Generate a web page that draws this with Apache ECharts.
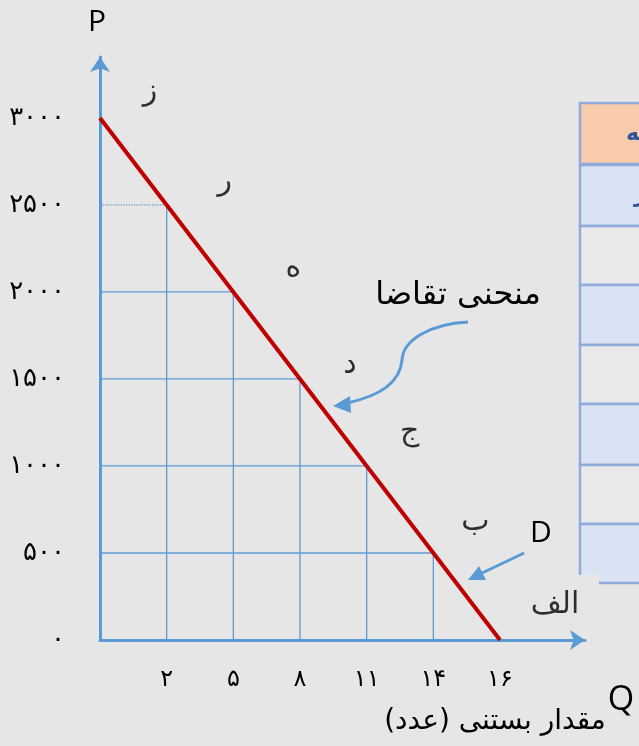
<!DOCTYPE html>
<html>
<head>
<meta charset="utf-8">
<script src="https://cdn.jsdelivr.net/npm/echarts@6/dist/echarts.min.js"></script>
<style>
html, body { margin: 0; padding: 0; background: #e7e6e6; }
#main { width: 639px; height: 746px; }
</style>
</head>
<body>
<div id="main"></div>
<script>
// نقاط روی منحنی تقاضا (از بالا به پایین)
var pointNames = ['ز', 'ر', 'ه', 'د', 'ج', 'ب', 'الف'];
var quantities = [0, 2, 5, 8, 11, 14, 16];
var prices = [3000, 2500, 2000, 1500, 1000, 500, 0];
// برچسب‌های محورها
var qTickLabels = ['', '۲', '۵', '۸', '۱۱', '۱۴', '۱۶'];
var pTickLabels = ['۰', '۵۰۰', '۱۰۰۰', '۱۵۰۰', '۲۰۰۰', '۲۵۰۰', '۳۰۰۰'];

var BG = '#e7e6e6';
var BLUE = '#5b9bd5';
var FA = '"DejaVu Sans", sans-serif';

// in the drawing the quantities sit at equal steps, so x is the point index
var linePts = prices.map(function (p, i) { return [i, p]; });

// جای حروف نسبت به نقطه
var labelOffsets = [[50, -26], [58, -23], [60, -24], [50, -14], [43, -34], [42, -31], [55, -35]];

var series = [];

// خطوط راهنما
for (var i = 1; i < prices.length - 1; i++) {
	series.push({
		type: 'line',
		data: [[0, prices[i]], [i, prices[i]]],
		symbol: 'none',
		silent: true,
		lineStyle: { color: BLUE, width: 1.3, type: i === 1 ? 'dotted' : 'solid' }
	});
	series.push({
		type: 'line',
		data: [[i, prices[i]], [i, 0]],
		symbol: 'none',
		silent: true,
		lineStyle: { color: BLUE, width: 1.3 }
	});
}

// منحنی تقاضا
series.push({
	type: 'line',
	data: linePts,
	symbol: 'none',
	z: 5,
	lineStyle: { color: '#c00000', width: 4 }
});

// حروف نقاط
series.push({
	type: 'scatter',
	symbolSize: 1,
	silent: true,
	itemStyle: { color: 'rgba(0,0,0,0)' },
	data: linePts.map(function (d, i) {
		return { value: d, label: { offset: labelOffsets[i] } };
	}),
	label: {
		show: true,
		position: 'inside',
		fontFamily: FA,
		fontSize: 30,
		color: '#000',
		formatter: function (p) { return pointNames[p.dataIndex]; }
	}
});

// جدول سمت راست (بریده شده)
var rowEdges = [165, 226, 285, 345, 404, 465, 524, 583];
var graphics = [{
	type: 'rect',
	shape: { x: 580, y: 103, width: 80, height: 61 },
	style: { fill: '#f8cbad', stroke: '#8faadc', lineWidth: 2.5 }
}];
for (var r = 0; r < rowEdges.length - 1; r++) {
	graphics.push({
		type: 'rect',
		shape: { x: 580, y: rowEdges[r], width: 80, height: rowEdges[r + 1] - rowEdges[r] },
		style: { fill: r % 2 === 0 ? '#dae3f3' : '#e9e9e9', stroke: '#8faadc', lineWidth: 2.5 }
	});
}
graphics.push(
	{ type: 'text', style: { x: 626, y: 134, text: 'نقطه', font: 'bold 22px ' + FA, fill: '#2f5597', textVerticalAlign: 'middle' } },
	{ type: 'text', style: { x: 634, y: 196, text: 'ز', font: 'bold 22px ' + FA, fill: '#2f5597', textVerticalAlign: 'middle' } },
	{ type: 'rect', shape: { x: 566, y: 575, width: 33, height: 24 }, style: { fill: BG } },
	{ type: 'text', style: { x: 97, y: 22, text: 'P', font: '30px "Open Sans", sans-serif', fill: '#000', textAlign: 'center', textVerticalAlign: 'middle' } },
	{ type: 'text', style: { x: 621, y: 700, text: 'Q', font: '34px "Open Sans", sans-serif', fill: '#000', textAlign: 'center', textVerticalAlign: 'middle' } },
	{ type: 'text', style: { x: 541, y: 533, text: 'D', font: '30px "Open Sans", sans-serif', fill: '#000', textAlign: 'center', textVerticalAlign: 'middle' } },
	{ type: 'text', style: { x: 458, y: 296, text: 'منحنی تقاضا', font: '32px ' + FA, fill: '#000', textAlign: 'center', textVerticalAlign: 'middle' } },
	{ type: 'text', style: { x: 495, y: 722, text: 'مقدار بستنی (عدد)', font: '28px ' + FA, fill: '#000', textAlign: 'center', textVerticalAlign: 'middle' } },
	// فلش منحنی
	{ type: 'bezierCurve', shape: { x1: 468, y1: 322, cpx1: 430, cpy1: 324, cpx2: 403, cpy2: 340, x2: 402, y2: 360 }, style: { stroke: BLUE, lineWidth: 3, fill: null } },
	{ type: 'bezierCurve', shape: { x1: 402, y1: 360, cpx1: 400, cpy1: 385, cpx2: 375, cpy2: 397, x2: 347, y2: 403 }, style: { stroke: BLUE, lineWidth: 3, fill: null } },
	{ type: 'polygon', shape: { points: [[333, 406], [350, 396], [351, 413]] }, style: { fill: BLUE } },
	// فلش D
	{ type: 'line', shape: { x1: 524, y1: 553, x2: 480, y2: 574 }, style: { stroke: BLUE, lineWidth: 3 } },
	{ type: 'polygon', shape: { points: [[468, 580], [479, 566], [486, 580]] }, style: { fill: BLUE } }
);

var myChart = echarts.init(document.getElementById('main'));
myChart.setOption({
	backgroundColor: BG,
	animation: false,
	grid: { left: 100, right: 54, top: 57, bottom: 106 },
	xAxis: {
		type: 'value',
		min: 0,
		max: 7.275,
		interval: 1,
		splitLine: { show: false },
		axisTick: { show: false },
		axisLine: { lineStyle: { color: BLUE, width: 3 }, symbol: ['none', 'arrow'], symbolSize: [15, 15] },
		axisLabel: {
			margin: 28,
			fontFamily: FA,
			fontSize: 24,
			color: '#000',
			showMaxLabel: false,
			formatter: function (v) { return qTickLabels[v] || ''; }
		}
	},
	yAxis: {
		type: 'value',
		min: 0,
		max: 3350,
		interval: 500,
		splitLine: { show: false },
		axisTick: { show: false },
		axisLine: { lineStyle: { color: BLUE, width: 3 }, symbol: ['none', 'arrow'], symbolSize: [15, 15] },
		axisLabel: {
			margin: 35,
			fontFamily: FA,
			fontSize: 26,
			color: '#000',
			showMaxLabel: false,
			formatter: function (v) { return pTickLabels[v / 500] || ''; }
		}
	},
	series: series,
	graphic: graphics
});
</script>
</body>
</html>
